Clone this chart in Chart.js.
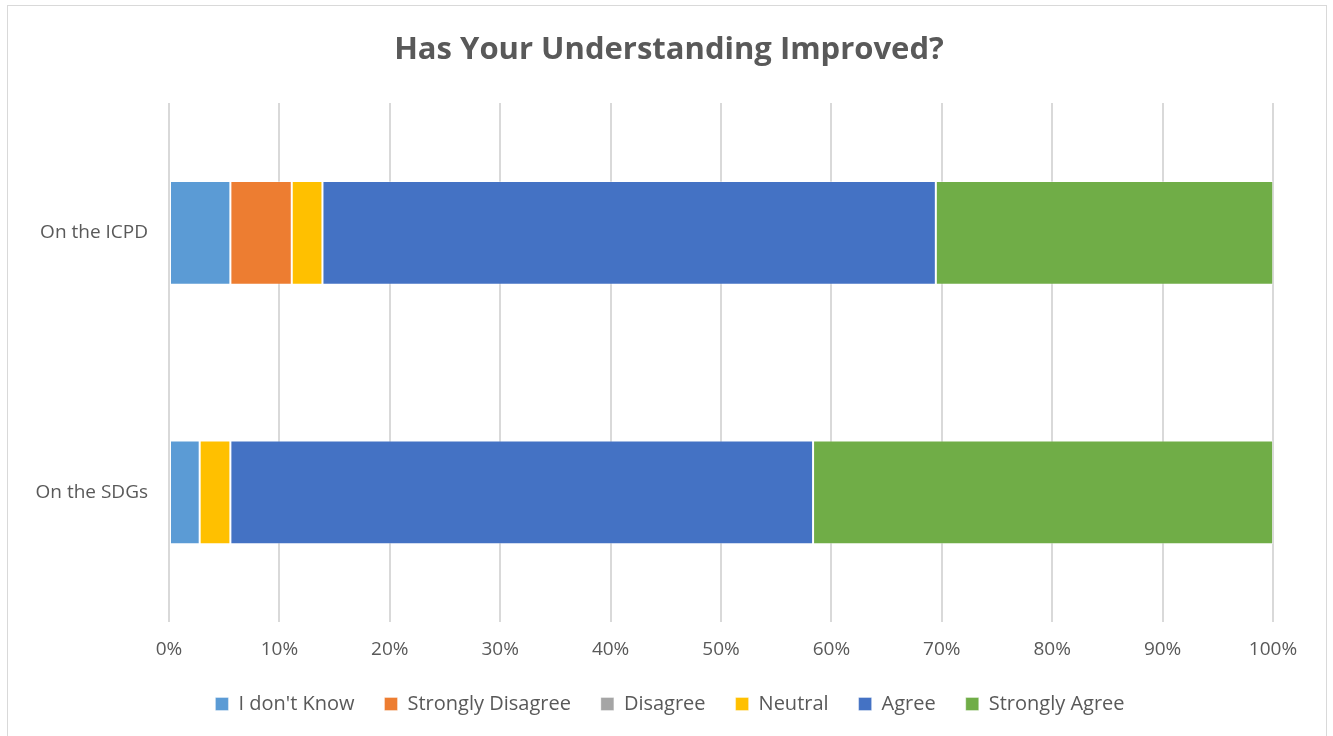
<!DOCTYPE html>
<html>
<head>
<meta charset="utf-8">
<script src="https://cdn.jsdelivr.net/npm/chart.js@4.4.0/dist/chart.umd.min.js"></script>
<style>
  html, body { margin: 0; padding: 0; background: #fff; }
  .frame {
    position: absolute; left: 7px; top: 5px;
    width: 1320px; height: 740px;
    border: 1px solid #d9d9d9; box-sizing: border-box;
  }
  .wrap { position: absolute; left: 0; top: 0; width: 1333px; height: 736px; }
</style>
</head>
<body>
<div class="frame"></div>
<div class="wrap"><canvas id="chart"></canvas></div>
<script>
// categories and series (percent of respondents)
const chartTitle = 'Has Your Understanding Improved?';
const categories = ['On the ICPD', 'On the SDGs'];
const seriesNames = ['I don\'t Know', 'Strongly Disagree', 'Disagree', 'Neutral', 'Agree', 'Strongly Agree'];
const seriesColors = ['#5b9bd5', '#ed7d31', '#a5a5a5', '#ffc000', '#4472c4', '#70ad47'];
const dontKnow = [5.56, 2.78];
const stronglyDisagree = [5.56, 0];
const disagree = [0, 0];
const neutral = [2.78, 2.78];
const agree = [55.56, 52.78];
const stronglyAgree = [30.56, 41.67];
const tickValues = [0, 10, 20, 30, 40, 50, 60, 70, 80, 90, 100];

const seriesValues = [dontKnow, stronglyDisagree, disagree, neutral, agree, stronglyAgree];
const FONT = '"Open Sans", "Liberation Sans", sans-serif';
const TEXT = '#595959';

// title and category labels drawn by hand so they are not clipped / stay centred on the frame
const labelPlugin = {
  id: 'frameLabels',
  afterDraw: (chart) => {
    const c = chart.ctx,
      yScale = chart.scales.y;

    c.save();
    c.fillStyle = TEXT;
    c.font = 'bold 31px ' + FONT;
    c.textAlign = 'center';
    c.textBaseline = 'middle';
    c.fillText(chartTitle, 669, 50);

    c.font = '19px ' + FONT;
    c.textAlign = 'right';
    categories.forEach((cat, i) => {
      c.fillText(cat, yScale.right - 21, yScale.getPixelForTick(i));
    });
    c.restore();
  }
};

const initChart = () => {
  const ctx = document.getElementById('chart');

  new Chart(ctx, {
    type: 'bar',
    data: {
      labels: categories,
      datasets: seriesNames.map((name, i) => ({
        label: name,
        data: seriesValues[i],
        backgroundColor: seriesColors[i],
        borderColor: 'rgba(255,255,255,0.35)',
        borderWidth: 1,
        borderSkipped: false,
        categoryPercentage: 1,
        barPercentage: 0.4
      }))
    },
    plugins: [labelPlugin],
    options: {
      indexAxis: 'y',
      responsive: true,
      maintainAspectRatio: false,
      animation: false,
      layout: { padding: { left: 67, right: 60, top: 103, bottom: 12 } },
      plugins: {
        title: { display: false },
        legend: {
          position: 'bottom',
          labels: {
            color: TEXT,
            font: { family: FONT, size: 20 },
            boxWidth: 13,
            boxHeight: 13,
            padding: 30
          }
        },
        tooltip: { enabled: false }
      },
      scales: {
        x: {
          stacked: true,
          min: 0,
          max: 100,
          afterBuildTicks: (axis) => {
            axis.ticks = tickValues.map((v) => ({ value: v }));
          },
          afterFit: (axis) => {
            axis.height -= 13;
          },
          ticks: {
            color: TEXT,
            font: { family: FONT, size: 19 },
            padding: 16,
            callback: (v) => v + '%'
          },
          grid: { color: '#d9d9d9', lineWidth: 2, drawTicks: false },
          border: { display: false }
        },
        y: {
          stacked: true,
          afterFit: (axis) => {
            axis.width = 102;
          },
          ticks: { display: false },
          grid: { display: false },
          border: { display: false }
        }
      }
    }
  });
};

initChart();
</script>
</body>
</html>
